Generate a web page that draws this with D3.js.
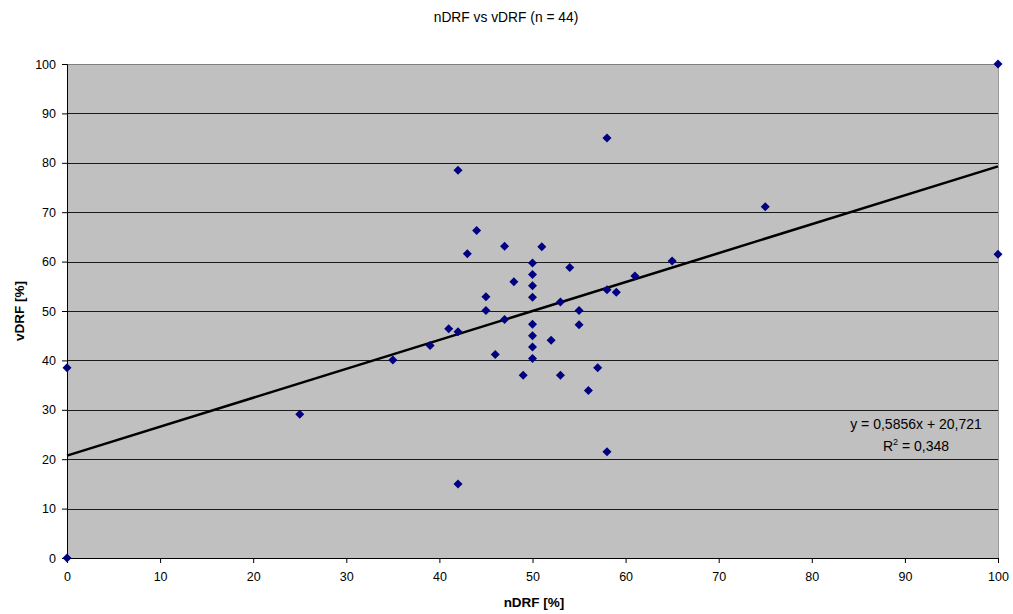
<!DOCTYPE html>
<html>
<head>
<meta charset="utf-8">
<script src="https://cdn.jsdelivr.net/npm/d3@7/dist/d3.min.js"></script>
<style>
  html, body { margin: 0; padding: 0; background: #fff; }
  svg { display: block; font-family: "Liberation Sans", Arial, sans-serif; }
</style>
</head>
<body>
<svg id="chart" width="1013" height="614"></svg>
<script>
// ---- data ----
const nDRF = [0, 0, 25, 35, 39, 41, 42, 42, 42, 43, 44, 45, 45, 46, 47, 47, 48, 49,
  50, 50, 50, 50, 50, 50, 50, 50,
  51, 52, 53, 53, 54, 55, 55, 56, 57, 58, 58, 58, 59, 61, 65, 75, 100, 100];
const vDRF = [0, 38.5, 29.1, 40.1, 43.0, 46.4, 45.8, 78.5, 15.0, 61.6, 66.3, 52.9, 50.1, 41.2, 48.3, 63.1, 55.9, 37.0,
  59.7, 57.4, 55.1, 52.8, 47.3, 45.0, 42.7, 40.4,
  63.0, 44.1, 51.8, 37.0, 58.8, 50.1, 47.2, 33.9, 38.5, 85.0, 54.3, 21.5, 53.8, 57.1, 60.1, 71.1, 100, 61.5];
const trend = { slope: 0.5856, intercept: 20.721 };
const xTicks = [0, 10, 20, 30, 40, 50, 60, 70, 80, 90, 100];
const yTicks = [0, 10, 20, 30, 40, 50, 60, 70, 80, 90, 100];
const title = "nDRF vs vDRF (n = 44)";
const xLabel = "nDRF [%]";
const yLabel = "vDRF [%]";
const eqText = "y = 0,5856x + 20,721";
const r2Value = "0,348";

// ---- layout ----
const svg = d3.select("#chart");
const L = 67, R = 998, T = 64, B = 558;
const x = d3.scaleLinear().domain([0, 100]).range([L, R]);
const y = d3.scaleLinear().domain([0, 100]).range([B, T]);

// plot background
svg.append("rect").attr("x", L).attr("y", T).attr("width", R - L).attr("height", B - T)
  .attr("fill", "#c0c0c0");

// gridlines
svg.append("g").selectAll("line").data(yTicks.filter(d => d > 0 && d < 100)).join("line")
  .attr("x1", L).attr("x2", R)
  .attr("y1", d => Math.round(y(d)) + 0.5).attr("y2", d => Math.round(y(d)) + 0.5)
  .attr("stroke", "#1a1a1a").attr("stroke-width", 1);

// plot border (top & right gray)
svg.append("line").attr("x1", L).attr("x2", R).attr("y1", T + 0.5).attr("y2", T + 0.5)
  .attr("stroke", "#808080");
svg.append("line").attr("x1", R + 0.5).attr("x2", R + 0.5).attr("y1", T).attr("y2", B)
  .attr("stroke", "#999999");

// axes
const xAxis = d3.axisBottom(x).tickValues(xTicks).tickSize(5).tickPadding(9).tickFormat(d3.format("d"));
const yAxis = d3.axisLeft(y).tickValues(yTicks).tickSize(5).tickPadding(6).tickFormat(d3.format("d"));

const gx = svg.append("g").attr("transform", `translate(0,${B})`).call(xAxis);
const gy = svg.append("g").attr("transform", `translate(${L},0)`).call(yAxis);
[gx, gy].forEach(g => {
  g.selectAll(".domain").attr("stroke", "#000");
  g.selectAll(".tick line").attr("stroke", "#000");
  g.selectAll(".tick text").attr("font-size", 12.5).attr("fill", "#000")
    .attr("font-family", "'Liberation Sans', Arial, sans-serif");
});

// trendline
svg.append("line")
  .attr("x1", x(0)).attr("y1", y(trend.intercept))
  .attr("x2", x(100)).attr("y2", y(trend.slope * 100 + trend.intercept))
  .attr("stroke", "#000").attr("stroke-width", 2.5);

// markers
const pts = nDRF.map((v, i) => ({ x: v, y: vDRF[i] }));
svg.append("g").selectAll("path").data(pts).join("path")
  .attr("d", d3.symbol().type(d3.symbolDiamond2).size(52))
  .attr("transform", d => `translate(${x(d.x)},${y(d.y)})`)
  .attr("fill", "#000080");

// title
svg.append("text").attr("x", 506).attr("y", 22).attr("text-anchor", "middle")
  .attr("font-size", 13.8).text(title);

// axis labels
svg.append("text").attr("x", 534).attr("y", 607).attr("text-anchor", "middle")
  .attr("font-size", 13.5).attr("font-weight", "bold").text(xLabel);
svg.append("text").attr("transform", "translate(24,311) rotate(-90)").attr("text-anchor", "middle")
  .attr("font-size", 13.5).attr("font-weight", "bold").text(yLabel);

// equation
svg.append("text").attr("x", 916).attr("y", 429).attr("text-anchor", "middle")
  .attr("font-size", 14).text(eqText);
const r2 = svg.append("text").attr("x", 916).attr("y", 451).attr("text-anchor", "middle")
  .attr("font-size", 14);
r2.append("tspan").text("R");
r2.append("tspan").attr("font-size", 9).attr("dy", -6).text("2");
r2.append("tspan").attr("dy", 6).text(" = " + r2Value);
</script>
</body>
</html>
